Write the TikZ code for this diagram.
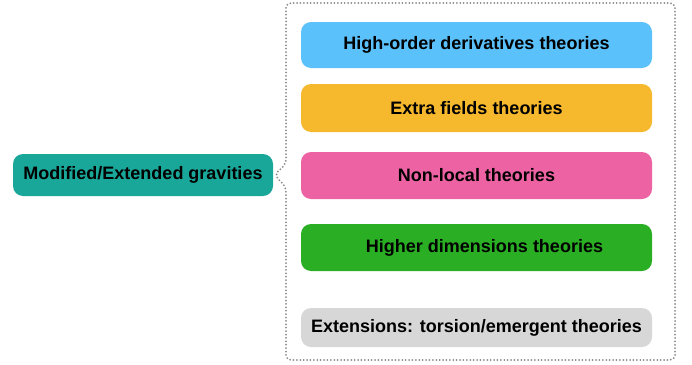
\documentclass[tikz,border=0pt]{standalone}
\usepackage{fontspec}
\setmainfont{Liberation Sans}
\definecolor{cteal}{HTML}{19A79A}
\definecolor{cblue}{HTML}{5AC1FA}
\definecolor{corange}{HTML}{F6B82D}
\definecolor{cpink}{HTML}{EC62A3}
\definecolor{cgreen}{HTML}{2AAE24}
\definecolor{cgray}{HTML}{D7D7D7}
\definecolor{cdot}{HTML}{8A8A8A}
\begin{document}
\begin{tikzpicture}[x=1pt,y=-1pt,
  boxstyle/.style={rounded corners=10pt, inner sep=0pt, minimum width=351pt,
    font=\fontsize{18}{20}\selectfont\bfseries, text=black},
  mainbox/.style={rounded corners=10pt, inner sep=0pt, minimum width=260pt, minimum height=42pt,
    fill=cteal, font=\fontsize{18}{20}\selectfont\bfseries, text=black},
  frame/.style={draw=cdot, line width=2pt, dash pattern=on 0pt off 3.4pt, line cap=round, rounded corners=5pt}]
\useasboundingbox (0,0) rectangle (692,364);
\node[mainbox] (main) at (143,175) {Modified/Extended gravities};
\node[boxstyle, fill=cblue, minimum height=46pt] (b1) at (476.5,45) {High-order derivatives theories};
\node[boxstyle, fill=corange, minimum height=48pt] (b2) at (476.5,108) {Extra fields theories};
\node[boxstyle, fill=cpink, minimum height=47pt] (b3) at (476.5,175.5) {Non-local theories};
\node[boxstyle, fill=cgreen, minimum height=47pt] (b4) at (476.5,247.5) {\hspace*{16pt}Higher dimensions theories};
\node[boxstyle, fill=cgray, minimum height=39pt] (b5) at (476.5,327.5) {Extensions: torsion/emergent theories};
\draw[frame] ([xshift=1pt]main.east) -- (286,164) -- (286,3) -- (675,3) -- (675,360) -- (286,360) -- (286,187) -- cycle;
\end{tikzpicture}
\end{document}
